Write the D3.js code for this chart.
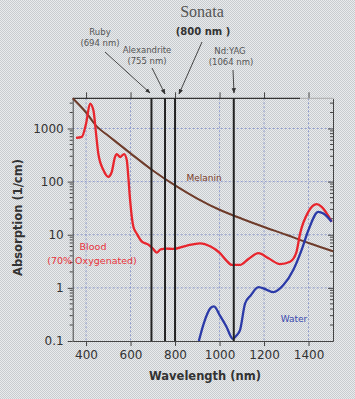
<!DOCTYPE html>
<html><head><meta charset="utf-8">
<script src="https://cdn.jsdelivr.net/npm/d3@7"></script>
<style>html,body{margin:0;padding:0;background:#d9dbdd;}svg{display:block;}</style>
</head><body>
<script>
// ---- data ----
const xTicks = [400, 600, 800, 1000, 1200, 1400];
const xTickLabels = ["400", "600", "800", "1000", "1200", "1400"];
const yTicks = [0.1, 1, 10, 100, 1000];
const yTickLabels = ["0.1", "1", "10", "100", "1000"];
const lasers = [694, 755, 800, 1064];
const melanin = [[340,3700],[400,2000],[450,1070],[500,730],[600,340],[700,162],[800,85],[900,48],[1000,29.5],[1100,20],[1200,14],[1300,10],[1400,7],[1510,4.9]];
const blood = [[355,665],[381,695],[400,1230],[418,2950],[433,2210],[445,800],[455,338],[478,165],[500,123],[515,150],[530,290],[538,330],[553,290],[571,330],[583,255],[590,123],[598,45],[613,14],[628,10.5],[650,7.5],[680,6.5],[700,5.5],[718,4.6],[735,5.3],[760,5.5],[792,5.4],[850,6.2],[912,6.9],[960,6],[1002,4.5],[1030,3.3],[1055,2.7],[1092,2.7],[1130,3.5],[1175,4.5],[1220,3.6],[1272,2.8],[1317,3.1],[1345,4.6],[1362,10.5],[1399,27],[1437,37.6],[1459,33.5],[1504,17.6]];
const water = [[907,0.1],[930,0.22],[960,0.42],[975,0.45],[1002,0.3],[1030,0.19],[1060,0.11],[1075,0.125],[1092,0.16],[1115,0.51],[1140,0.72],[1175,1.03],[1210,0.93],[1242,0.83],[1287,1.13],[1332,2.2],[1369,5.2],[1399,12],[1444,27],[1467,25],[1504,17.6]];

const W = 355, H = 399;
const svg = d3.select("body").append("svg").attr("width", W).attr("height", H);
const defs = svg.append("defs");
const pat = defs.append("pattern").attr("id","dith").attr("width",2).attr("height",2).attr("patternUnits","userSpaceOnUse");
pat.append("rect").attr("width",2).attr("height",2).attr("fill","#e9ebed");
pat.append("rect").attr("width",1).attr("height",1).attr("fill","#c8cccf");
pat.append("rect").attr("x",1).attr("y",1).attr("width",1).attr("height",1).attr("fill","#c8cccf");
svg.append("rect").attr("width",W).attr("height",H).attr("fill","url(#dith)");

const x = d3.scaleLinear().domain([340,1510]).range([72.7,333]);
const y = d3.scaleLog().domain([0.1,3700]).range([341,98.3]);
const [x0,x1] = x.range(), [y0,y1] = y.range();

// grid
const grid = svg.append("g").attr("stroke","#7d8cc8").attr("stroke-width",0.8).attr("stroke-dasharray","2,2");
xTicks.forEach(t => grid.append("line").attr("x1",x(t)).attr("x2",x(t)).attr("y1",y1).attr("y2",y0));
yTicks.slice(1).forEach(t => grid.append("line").attr("x1",x0).attr("x2",x1).attr("y1",y(t)).attr("y2",y(t)));

// axes
const gBottom = svg.append("g").attr("transform",`translate(0,${y0})`).call(d3.axisBottom(x).tickValues(xTicks).tickFormat((d,i)=>xTickLabels[i]).tickSize(5).tickSizeOuter(0).tickPadding(4));
gBottom.selectAll("text").attr("font-family","DejaVu Sans").attr("font-size",12).attr("fill","#333");
gBottom.selectAll("path,line").attr("stroke","#444");
const gTop = svg.append("g").attr("transform",`translate(0,${y1})`).call(d3.axisTop(x).tickValues(xTicks).tickSize(6).tickSizeOuter(0).tickFormat(""));
gTop.select("path").remove();
gTop.selectAll("line").attr("stroke","#444");
svg.append("line").attr("x1",x0).attr("x2",300).attr("y1",y1).attr("y2",y1).attr("stroke","#333").attr("stroke-width",1.2);
svg.append("line").attr("x1",300).attr("x2",x1).attr("y1",y1).attr("y2",y1).attr("stroke","#aaa").attr("stroke-width",1);

// minor log ticks
const minor = [];
for (let e = -1; e <= 3; e++) for (let m = 2; m <= 9; m++) { const v = m*Math.pow(10,e); if (v <= 3700) minor.push(v); }
const gLeft = svg.append("g").attr("transform",`translate(${x0},0)`).call(d3.axisLeft(y).tickValues(yTicks).tickFormat((d,i)=>yTickLabels[i]).tickSize(5).tickSizeOuter(0).tickPadding(4));
gLeft.selectAll("text").attr("font-family","DejaVu Sans").attr("font-size",12).attr("fill","#333");
gLeft.selectAll("path,line").attr("stroke","#444");
const lm = svg.append("g").attr("stroke","#444");
minor.forEach(v => lm.append("line").attr("x1",x0-3).attr("x2",x0).attr("y1",y(v)).attr("y2",y(v)));
const gRight = svg.append("g").attr("transform",`translate(${x1},0)`).call(d3.axisLeft(y).tickValues(yTicks).tickFormat("").tickSize(5).tickSizeOuter(0));
gRight.selectAll("path,line").attr("stroke","#444");
minor.forEach(v => lm.append("line").attr("x1",x1-3).attr("x2",x1).attr("y1",y(v)).attr("y2",y(v)));

// curves
const line = d3.line().x(d=>x(d[0])).y(d=>y(d[1])).curve(d3.curveMonotoneX);
svg.append("path").datum(melanin).attr("d",line).attr("fill","none").attr("stroke","#6e3b2a").attr("stroke-width",2);
svg.append("path").datum(blood).attr("d",line).attr("fill","none").attr("stroke","#e8252d").attr("stroke-width",2.3);
svg.append("path").datum(water).attr("d",line).attr("fill","none").attr("stroke","#2b3aa8").attr("stroke-width",2.3);

// lasers
lasers.forEach(l => svg.append("line").attr("x1",x(l)).attr("x2",x(l)).attr("y1",y1).attr("y2",y0).attr("stroke","#222").attr("stroke-width",2));

// curve labels
svg.append("text").attr("x",204).attr("y",181).attr("text-anchor","middle").attr("font-family","DejaVu Sans").attr("font-size",9).attr("fill","#7b3b2b").text("Melanin");
svg.append("text").attr("x",93).attr("y",250).attr("text-anchor","middle").attr("font-family","DejaVu Sans").attr("font-size",9.5).attr("fill","#e8323a").text("Blood");
svg.append("text").attr("x",92).attr("y",264).attr("text-anchor","middle").attr("font-family","DejaVu Sans").attr("font-size",9.5).attr("fill","#e8323a").text("(70% Oxygenated)");
svg.append("text").attr("x",294).attr("y",322).attr("text-anchor","middle").attr("font-family","DejaVu Sans").attr("font-size",9).attr("fill","#3a4ab0").text("Water");

// titles
svg.append("text").attr("x",205).attr("y",380).attr("text-anchor","middle").attr("font-family","DejaVu Sans").attr("font-weight","bold").attr("font-size",11.5).attr("fill","#333").text("Wavelength (nm)");
svg.append("text").attr("transform","translate(22,217.5) rotate(-90)").attr("text-anchor","middle").attr("font-family","DejaVu Sans").attr("font-weight","bold").attr("font-size",11.5).attr("fill","#333").text("Absorption (1/cm)");

// annotations
svg.append("text").attr("x",202).attr("y",17).attr("text-anchor","middle").attr("font-family","Liberation Serif").attr("font-size",16).attr("fill","#555").text("Sonata");
svg.append("text").attr("x",203).attr("y",35).attr("text-anchor","middle").attr("font-family","DejaVu Sans").attr("font-weight","bold").attr("font-size",10).attr("fill","#333").text("(800 nm )");
const ann = [["Ruby",100,35],["(694 nm)",100,46],["Alexandrite",147,53],["(755 nm)",147,64],["Nd:YAG",230,54],["(1064 nm)",231,65]];
ann.forEach(a => svg.append("text").attr("x",a[1]).attr("y",a[2]).attr("text-anchor","middle").attr("font-family","DejaVu Sans").attr("font-size",8.5).attr("fill","#555").text(a[0]));
defs.append("marker").attr("id","ah").attr("viewBox","0 0 10 10").attr("refX",9).attr("refY",5).attr("markerWidth",6).attr("markerHeight",6).attr("orient","auto")
  .append("path").attr("d","M0,1 L10,5 L0,9 Z").attr("fill","#333");
const arrows = [[105,52,150,93],[152,68,165,94],[202,42,179,94],[233,70,234,93]];
arrows.forEach(a => svg.append("line").attr("x1",a[0]).attr("y1",a[1]).attr("x2",a[2]).attr("y2",a[3]).attr("stroke","#333").attr("stroke-width",0.9).attr("marker-end","url(#ah)"));
</script>
</body></html>
